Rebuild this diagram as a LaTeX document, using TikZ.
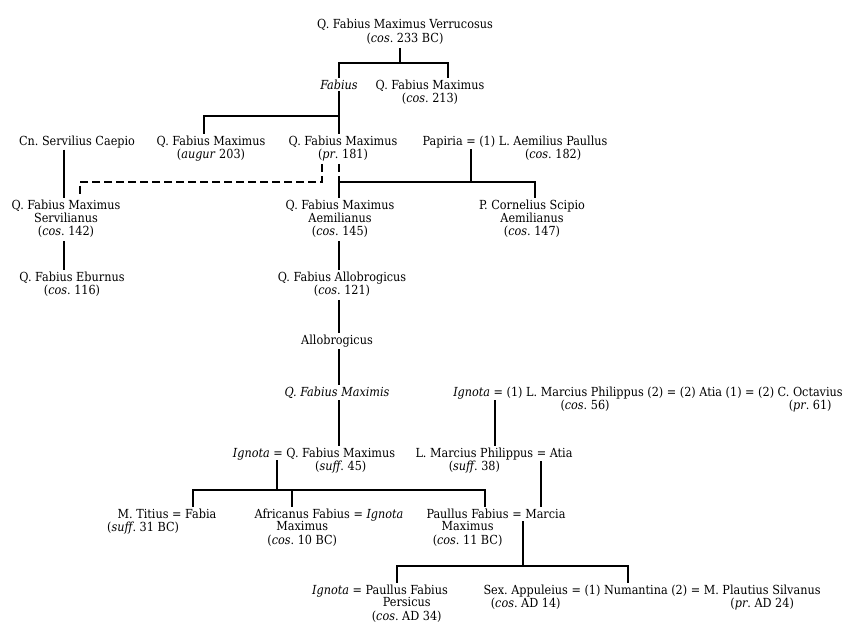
\documentclass[tikz,border=0pt]{standalone}
\usepackage{fontspec}
\setmainfont{DejaVu Serif Condensed}
\usepackage{tikz}
\frenchspacing
\newcommand{\pers}[1]{\begin{tabular}[t]{@{}c@{}}#1\end{tabular}}

\begin{document}
\begin{tikzpicture}[x=1pt, y=-1pt, line width=2pt,
  every node/.style={anchor=base, inner sep=1pt, font=\fontsize{12.5}{12.5}\selectfont},
  link/.style={dash pattern=on 8pt off 4pt}]
\useasboundingbox (0,0) rectangle (857,634);

\node (V) at (405,29) {\pers{Q. Fabius Maximus Verrucosus\\(\emph{cos}. 233 BC)}};

\node (Fab) at (339,89) {\emph{Fabius}};
\node (Q213) at (430,89) {\pers{Q. Fabius Maximus\\(\emph{cos}. 213)}};

\node (Caepio) at (77,145) {Cn. Servilius Caepio};
\node (Augur) at (211,145) {\pers{Q. Fabius Maximus\\(\emph{augur} 203)}};
\node (Pr181) at (343,145) {\pers{Q. Fabius Maximus\\(\emph{pr}. 181)}};
\node (Paullus) at (515,145) {Papiria = (1) \pers{L. Aemilius Paullus\\(\emph{cos}. 182)}};

\node (Servil) at (66,209) {\pers{Q. Fabius Maximus\\Servilianus\\(\emph{cos}. 142)}};
\node (Aemil) at (340,209) {\pers{Q. Fabius Maximus\\Aemilianus\\(\emph{cos}. 145)}};
\node (Scipio) at (532,209) {\pers{P. Cornelius Scipio\\Aemilianus\\(\emph{cos}. 147)}};

\node (Eburnus) at (72,281) {\pers{Q. Fabius Eburnus\\(\emph{cos}. 116)}};
\node (Allob) at (342,281) {\pers{Q. Fabius Allobrogicus\\(\emph{cos}. 121)}};
\node (Allob2) at (337,344) {Allobrogicus};
\node (Maximis) at (337,396) {\emph{Q. Fabius Maximis}};
\node (Philip) at (648,396) {\emph{Ignota} = (1) \pers{L. Marcius Philippus\\(\emph{cos}. 56)} (2) = (2) Atia (1) = (2) \pers{C. Octavius\\(\emph{pr}. 61)}};

\node (Q45) at (314,457) {\emph{Ignota} = \pers{Q. Fabius Maximus\\(\emph{suff}. 45)}};
\node (LMP) at (494,457) {\pers{L. Marcius Philippus\\(\emph{suff}. 38)} = Atia};

\node (Titius) at (167,518) {\pers{M. Titius\\\makebox[0pt]{(\emph{suff}. 31 BC)}} = Fabia};
\node (Afric) at (329,518) {\pers{Africanus Fabius\\Maximus\\(\emph{cos}. 10 BC)} = \emph{Ignota}};
\node (PFM) at (496,518) {\pers{Paullus Fabius\\Maximus\\(\emph{cos}. 11 BC)} = Marcia};

\node (Persic) at (380,594) {\emph{Ignota} = \pers{Paullus Fabius\\Persicus\\(\emph{cos}. AD 34)}};
\node (Numant) at (652,594) {\pers{Sex. Appuleius\\(\emph{cos}. AD 14)} = (1) Numantina (2) = \pers{M. Plautius Silvanus\\(\emph{pr}. AD 24)}};

% bars and marriage points
\coordinate (b1) at (400,63);
\coordinate (b1r) at (448,63);
\coordinate (b2) at (339,116);
\coordinate (b2l) at (204,116);
\coordinate (m1) at (471,149);
\coordinate (b3) at (339,182);
\coordinate (b3r) at (535,182);
\coordinate (d1) at (322,182);
\coordinate (d2) at (80,182);
\coordinate (cae) at (64,182);
\coordinate (m2) at (495,400);
\coordinate (m3) at (277,460);
\coordinate (b4) at (277,490);
\coordinate (b4l) at (193,490);
\coordinate (b4c) at (292,490);
\coordinate (b4r) at (485,490);
\coordinate (m4) at (541,461);
\coordinate (m5) at (523,521);
\coordinate (b5) at (523,566);
\coordinate (b5l) at (397,566);
\coordinate (b5r) at (628,566);

\draw (b1 |- V.south) -- (b1);
\draw (Fab.north) |- (b1r) -- (b1r |- Q213.north);

\draw (Fab.south) -- (b2 |- Pr181.north);
\draw (b2) -| (b2l |- Augur.north);

\draw (cae |- Caepio.south) -- (cae |- Servil.north);
\draw[link] (d1 |- Pr181.south) -- (d1) -- (d2) -- (d2 |- Servil.north);
\draw[link] (b3 |- Pr181.south) -- (b3);
\draw (m1) -- (m1 |- b3);
\draw (b3 |- Aemil.north) -- (b3) -| (b3r |- Scipio.north);

\draw (cae |- Servil.south) -- (cae |- Eburnus.north);
\draw (b3 |- Aemil.south) -- (b3 |- Allob.north);
\draw (b3 |- Allob.south) -- (b3 |- Allob2.north);
\draw (b3 |- Allob2.south) -- (b3 |- Maximis.north);
\draw (b3 |- Maximis.south) -- (b3 |- Q45.north);

\draw (m2) -- (m2 |- LMP.north);

\draw (m3) -- (b4);
\draw (b4l |- Titius.north) -- (b4l) -- (b4r) -- (b4r |- PFM.north);
\draw (b4c) -- (b4c |- Afric.north);
\draw (m4) -- (m4 |- PFM.north);

\draw (m5) -- (b5);
\draw (b5l |- Persic.north) -- (b5l) -- (b5r) -- (b5r |- Numant.north);
\end{tikzpicture}
\end{document}
